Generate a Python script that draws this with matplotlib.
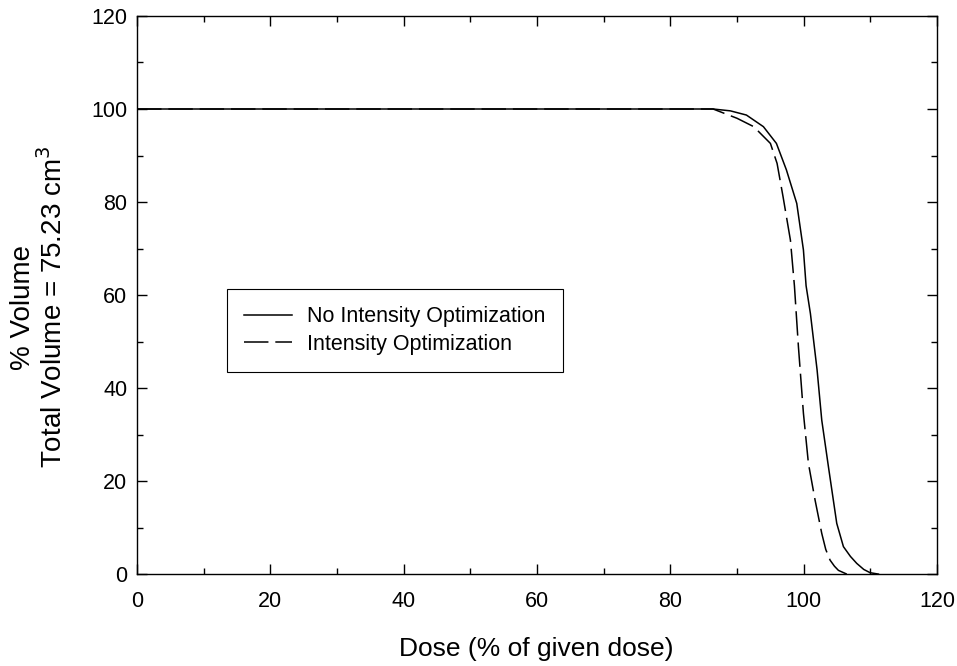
import matplotlib.pyplot as plt
from matplotlib.ticker import MultipleLocator

plt.rcParams['font.family'] = ['Liberation Sans', 'DejaVu Sans']

# dose-volume histogram
dose_no_opt = [0, 86.4, 89.0, 91.4, 93.95, 95.9, 97.4, 98.95, 99.95, 100.35,
               101.0, 102.0, 102.7, 103.7, 104.95, 105.95, 107.0, 107.95, 109.0, 109.95, 111.2]
vol_no_opt = [100, 100, 99.6, 98.7, 96.2, 92.6, 86.9, 79.7, 69.7, 62.0,
              56.0, 43.9, 33.1, 23.1, 10.9, 5.9, 3.8, 2.3, 1.0, 0.3, 0]

dose_opt = [0, 86.4, 90.0, 92.5, 95.0, 96.0, 96.9, 98.0, 98.6, 99.2,
            99.95, 100.7, 101.7, 102.7, 103.3, 103.95, 104.6, 105.2, 106.45]
vol_opt = [100, 100, 98.0, 96.2, 92.6, 88.3, 81.1, 71.8, 62.0, 48.9,
           34.6, 23.8, 15.9, 8.75, 5.3, 3.0, 1.7, 0.8, 0]

labels = ["No Intensity Optimization", "Intensity Optimization"]

fig = plt.figure(figsize=(9.57, 6.66), dpi=100)
ax = fig.add_axes([0.1432, 0.138, 0.836, 0.838])

ax.plot(dose_no_opt, vol_no_opt, color='black', lw=1.1, label=labels[0])
ax.plot(dose_opt, vol_opt, color='black', lw=1.1, dashes=(16, 4.5), label=labels[1])

ax.set_xlim(0, 120)
ax.set_ylim(0, 120)
ax.xaxis.set_major_locator(MultipleLocator(20))
ax.xaxis.set_minor_locator(MultipleLocator(10))
ax.yaxis.set_major_locator(MultipleLocator(20))
ax.yaxis.set_minor_locator(MultipleLocator(10))
ax.tick_params(which='both', direction='in', top=True, right=True,
               labelsize=15.5, width=1)
ax.tick_params(which='major', length=7)
ax.tick_params(which='minor', length=4)
ax.tick_params(axis='x', which='major', pad=12)
ax.tick_params(axis='y', which='major', pad=7)
for s in ax.spines.values():
    s.set_linewidth(1)

# axis titles placed in figure coordinates
fig.text(0.5606, 0.025, "Dose (% of given dose)", fontsize=19,
         ha='center', va='center')
fig.text(0.041, 0.539, "% Volume\nTotal Volume = 75.23 cm$^3$", fontsize=20,
         ha='center', va='center', rotation=90, multialignment='center',
         linespacing=1.1)

leg = ax.legend(loc='upper left', bbox_to_anchor=(0.112, 0.511), fontsize=15.5,
                frameon=True, fancybox=False, framealpha=1, edgecolor='black',
                handlelength=2.25, handletextpad=0.7, borderpad=0.8,
                borderaxespad=0, labelspacing=0.3)
leg.get_frame().set_linewidth(0.8)

fig.savefig("out.png", dpi=100)
